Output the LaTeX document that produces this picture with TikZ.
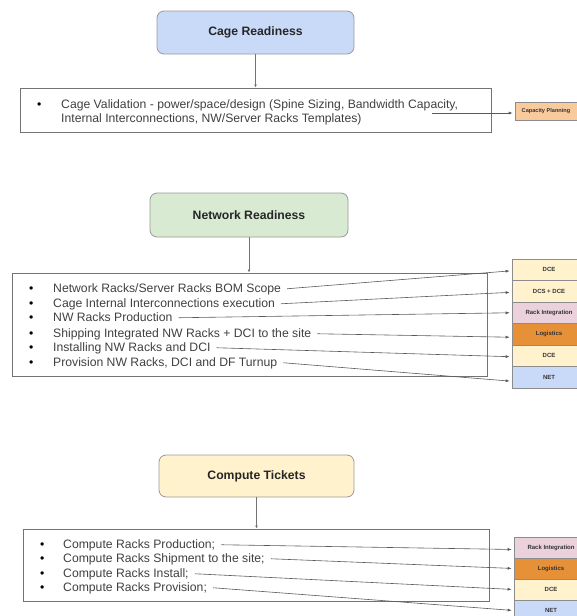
\documentclass[tikz,border=0pt]{standalone}
\usepackage{fontspec}
\setmainfont{Liberation Sans}
\usetikzlibrary{arrows.meta}
\definecolor{cageblue}{HTML}{C9DAF8}
\definecolor{netgreen}{HTML}{D9EAD3}
\definecolor{compyellow}{HTML}{FFF2CC}
\definecolor{capfill}{HTML}{F9CB9C}
\definecolor{rackpink}{HTML}{EAD1DC}
\definecolor{logfill}{HTML}{E69138}
\newcommand{\blt}[1]{\makebox[#1][l]{\color{black}\textbullet}}
\begin{document}
\begin{tikzpicture}[x=1pt,y=-1pt,
  title/.style={draw=black!40,line width=0.8pt,rounded corners=7pt,font=\fontsize{12.2}{14}\selectfont\bfseries,text=black!85},
  frame/.style={draw=black!55,line width=1pt},
  item/.style={anchor=base west,inner sep=0pt,text height=9pt,text depth=2.5pt,font=\fontsize{12.2}{14}\selectfont,text=black!75},
  tag/.style={draw=black!45,line width=0.6pt,minimum width=74pt,inner sep=0pt,font=\fontsize{6}{7}\selectfont\bfseries,text=black!80},
  link/.style={draw=black!65,line width=0.6pt,shorten >=2pt,-{Latex[length=4pt,width=3pt]}},
  down/.style={draw=black!55,line width=0.6pt,-{Latex[length=3pt,width=3pt]}}]
\useasboundingbox (0,0) rectangle (576,616);

% cage readiness
\node[title,fill=cageblue,minimum width=197pt,minimum height=43pt] (cage) at (255.5,32.5) {Cage Readiness};
\node[frame,minimum width=471pt,minimum height=44pt] (cagelist) at (255.5,110) {};
\draw[down] (cage.south) -- (cage.south |- cagelist.north);
\node[item] (c1) at (37,108) {\blt{24pt}Cage Validation - power/space/design (Spine Sizing, Bandwidth Capacity,};
\node[item] (c2) at (61,122) {Internal Interconnections, NW/Server Racks Templates)};
\node[tag,fill=capfill,minimum width=62pt,minimum height=18pt,font=\fontsize{5.6}{7}\selectfont\bfseries] (capplan) at (546,111) {Capacity Planning};
\coordinate (capfrom) at (432,113);
\draw[link] (capfrom) -- (capfrom -| capplan.west);

% network readiness
\node[title,fill=netgreen,minimum width=198pt,minimum height=44pt] (net) at (249,215) {Network Readiness};
\node[frame,minimum width=475pt,minimum height=103pt] (netlist) at (249.5,324.5) {};
\draw[down] (net.south) -- (net.south |- netlist.north);
\node[item] (n1) at (29,292) {\blt{24pt}Network Racks/Server Racks BOM Scope};
\node[item] (n2) at (29,307) {\blt{24pt}Cage Internal Interconnections execution};
\node[item] (n3) at (29,321) {\blt{24pt}NW Racks Production};
\node[item] (n4) at (29,337) {\blt{24pt}Shipping Integrated NW Racks + DCI to the site};
\node[item] (n5) at (29,351) {\blt{24pt}Installing NW Racks and DCI};
\node[item] (n6) at (29,366) {\blt{24pt}Provision NW Racks, DCI and DF Turnup};

\node[tag,fill=compyellow,minimum height=21.5pt] (ndce) at (549,269.75) {DCE};
\node[tag,fill=compyellow,minimum height=21.5pt] (ndcs) at (549,291.25) {DCS + DCE};
\node[tag,fill=rackpink,minimum height=21.5pt] (nrack) at (549,312.75) {Rack Integration};
\node[tag,fill=logfill,minimum height=21.5pt] (nlog) at (549,334.25) {Logistics};
\node[tag,fill=compyellow,minimum height=21.5pt] (ndce2) at (549,355.75) {DCE};
\node[tag,fill=cageblue,minimum height=21.5pt] (nnet) at (549,377.25) {NET};

\draw[link] ([xshift=6pt]n1.east) -- ([yshift=-1pt]ndce.west);
\draw[link] ([xshift=6pt]n2.east) -- ([yshift=-1pt]ndcs.west);
\draw[link] ([xshift=6pt]n3.east) -- (nrack.west);
\draw[link] ([xshift=6pt]n4.east) -- ([yshift=-3pt]nlog.west);
\draw[link] ([xshift=6pt]n5.east) -- ([yshift=-1pt]ndce2.west);
\draw[link] ([xshift=6pt]n6.east) -- ([yshift=-4pt]nnet.west);

% compute tickets
\node[title,fill=compyellow,minimum width=195pt,minimum height=42pt] (comp) at (256.5,476) {Compute Tickets};
\node[frame,minimum width=466pt,minimum height=72pt] (complist) at (256,565) {};
\draw[down] (comp.south) -- (comp.south |- complist.north);
\node[item] (p1) at (40,548) {\blt{23pt}Compute Racks Production;};
\node[item] (p2) at (40,562) {\blt{23pt}Compute Racks Shipment to the site;};
\node[item] (p3) at (40,577) {\blt{23pt}Compute Racks Install;};
\node[item] (p4) at (40,591) {\blt{23pt}Compute Racks Provision;};

\node[tag,fill=rackpink,minimum height=21pt] (prack) at (551,547.5) {Rack Integration};
\node[tag,fill=logfill,minimum height=21pt] (plog) at (551,568.5) {Logistics};
\node[tag,fill=compyellow,minimum height=21pt] (pdce) at (551,589.5) {DCE};
\node[tag,fill=cageblue,minimum height=21pt] (pnet) at (551,610.5) {NET};

\draw[link] ([xshift=6pt]p1.east) -- ([yshift=-2pt]prack.west);
\draw[link] ([xshift=6pt]p2.east) -- (plog.west);
\draw[link] ([xshift=6pt]p3.east) -- (pdce.west);
\draw[link] ([xshift=6pt]p4.east) -- (pnet.west);
\end{tikzpicture}
\end{document}
